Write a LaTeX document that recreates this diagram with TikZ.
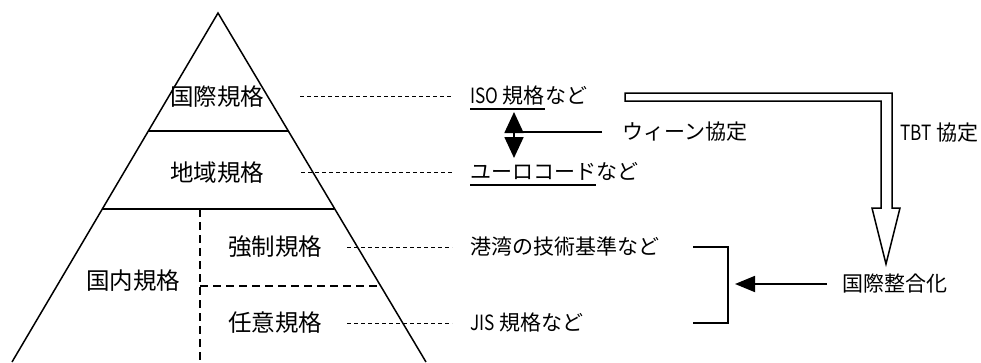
\documentclass[tikz,border=0pt]{standalone}
\usepackage{fontspec}
\setmainfont{Noto Sans CJK JP}
\usetikzlibrary{arrows.meta}
\newcommand\hwlat[1]{\scalebox{0.82}[1]{#1}}
\begin{document}
\begin{tikzpicture}[x=1pt,y=-1pt,
  lbl/.style={font=\fontsize{23.5}{28}\selectfont, inner sep=0pt},
  txt/.style={font=\fontsize{21}{25}\selectfont, inner sep=0pt, anchor=west, text height=17.4pt, text depth=1.5pt},
  leader/.style={line width=1pt, dash pattern=on 4pt off 3pt},
  innerdash/.style={line width=1.6pt, dash pattern=on 8pt off 5pt},
  pyr/.style={line width=1.5pt},
  conn/.style={line width=1.8pt},
  uline/.style={line width=2pt}
]
\useasboundingbox (0,0) rectangle (981,362);

% pyramid
\coordinate (apex) at (218,13);
\coordinate (bl) at (12,362);
\coordinate (br) at (426,362);
\draw[pyr] (bl) -- (apex) -- (br);
\draw[pyr] (148.3,131) -- (287.7,131);
\draw[pyr] (102,209) -- (334,209);
\draw[innerdash] (200,209) -- (200,362);
\draw[innerdash] (200,286) -- (379,286);

% pyramid labels
\node[lbl] (intl) at (217,97) {国際規格};
\node[lbl] (regn) at (217,173) {地域規格};
\node[lbl] (mand) at (275,247) {強制規格};
\node[lbl] (volu) at (275,323) {任意規格};
\node[lbl] (natl) at (133,281) {国内規格};

% right texts
\node[txt] (isoA) at (470,96) {\hwlat{ISO} 規格};
\node[txt] (isoB) at (isoA.east) {など};
\node[txt] (euA) at (470,172) {ユーロコード};
\node[txt] (euB) at (euA.east) {など};
\node[txt] (port) at (470,247) {港湾の技術基準など};
\node[txt] (jis) at (470,323) {\hwlat{JIS} 規格など};
\node[txt] (wien) at (622,132) {ウィーン協定};
\node[txt] (tbt) at (900,133) {\hwlat{TBT} 協定};
\node[txt] (harm) at (842,284) {国際整合化};

% underlines
\draw[uline] ([yshift=-3pt]isoA.south west) -- ([yshift=-3pt]isoA.south east);
\draw[uline] ([yshift=-3pt]euA.south west) -- ([yshift=-3pt]euA.south east);

% leaders
\coordinate (l1) at (300,96);
\coordinate (l2) at (301,172);
\coordinate (l3) at (347,247);
\coordinate (l4) at (347,323);
\draw[leader] (l1) -- ([xshift=-18pt]isoA.west);
\draw[leader] (l2) -- ([xshift=-18pt]euA.west);
\draw[leader] (l3) -- ([xshift=-18pt]port.west);
\draw[leader] (l4) -- ([xshift=-18pt]jis.west);

% double-headed arrow (Vienna agreement)
\coordinate (vt) at (514,112);
\coordinate (vb) at (514,158);
\coordinate (vm) at (514,132);
\draw[conn, {Triangle[length=21pt,width=19pt]}-{Triangle[length=21pt,width=19pt]}] (vt) -- (vb);
\draw[conn] ([xshift=-20pt]wien.west) -- (vm);

% hollow TBT arrow
\draw[line width=1.5pt, line join=miter]
  (625,93) -- (892,93) -- (892,208) -- (900,208) -- (886,264) -- (872,208)
  -- (881,208) -- (881,101) -- (625,101) -- cycle;

% bracket
\coordinate (b1) at (693,247);
\coordinate (b2) at (728,247);
\coordinate (b3) at (728,323);
\coordinate (b4) at (693,323);
\draw[conn] (b1) -- (b2) -- (b3) -- (b4);

% harmonization arrow
\coordinate (htip) at (735,284);
\draw[conn, -{Triangle[length=20pt,width=16pt]}] ([xshift=-15pt]harm.west) -- (htip);
\end{tikzpicture}
\end{document}
